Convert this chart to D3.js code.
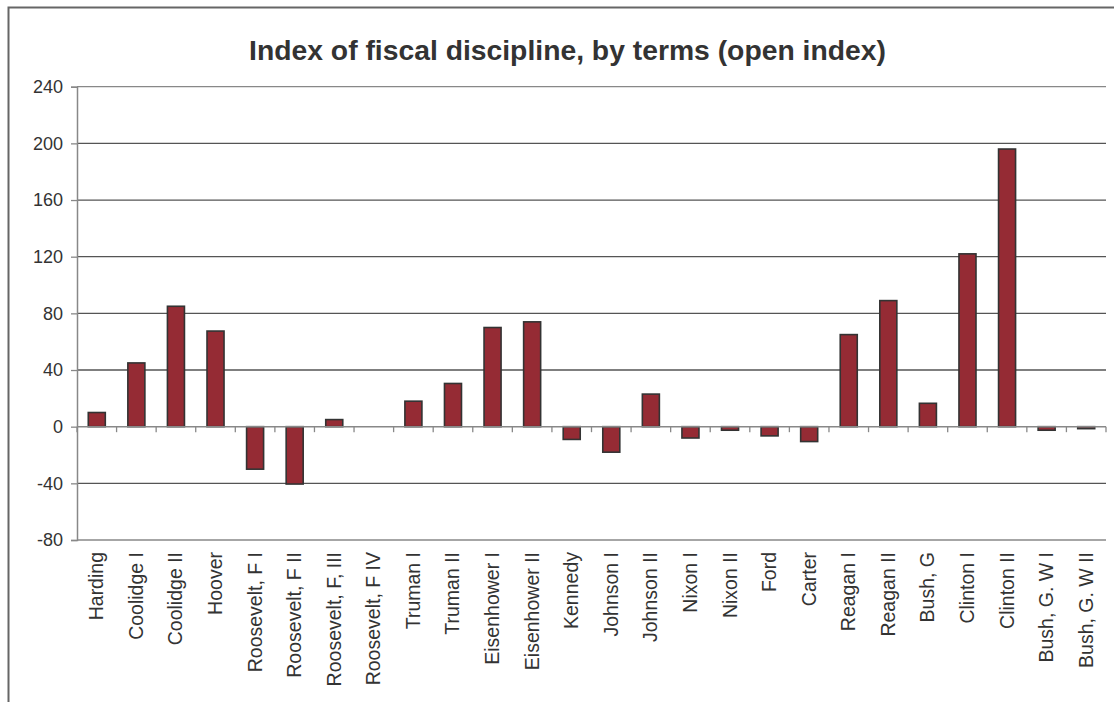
<!DOCTYPE html>
<html><head><meta charset="utf-8">
<script src="https://cdn.jsdelivr.net/npm/d3@7"></script>
<style>body{margin:0;background:#fff}svg{display:block}text{font-family:"Liberation Sans",Arial,sans-serif}</style>
</head><body>
<script>
const categories = ["Harding","Coolidge I","Coolidge II","Hoover","Roosevelt, F I","Roosevelt, F II","Roosevelt, F, III","Roosevelt, F IV","Truman I","Truman II","Eisenhower I","Eisenhower II","Kennedy","Johnson I","Johnson II","Nixon I","Nixon II","Ford","Carter","Reagan I","Reagan II","Bush, G","Clinton I","Clinton II","Bush, G. W I","Bush, G. W II"];
const values = [10,45,85,67.5,-30,-40.5,5,0,18,30.5,70,74,-9,-18,23,-8,-2.5,-6.5,-10.5,65,89,16.5,122,196,-2.5,-1.4];
const yTicks = [-80,-40,0,40,80,120,160,200,240];
const title = "Index of fiscal discipline, by terms (open index)";

const W=1114,H=702;
const svg=d3.select("body").append("svg").attr("width",W).attr("height",H);
svg.append("rect").attr("x",8.5).attr("y",7.5).attr("width",1110).attr("height",700).attr("fill","none").attr("stroke","#666").attr("stroke-width",2);

const x0=77,x1=1106,yTop=86.7,yBot=540;
const x=d3.scaleBand().domain(categories).range([x0,x1]).paddingInner(0.57).paddingOuter(0.285);
const xb=d3.scaleBand().domain(categories).range([x0,x1]);
const y=d3.scaleLinear().domain([-80,240]).range([yBot,yTop]);

svg.append("text").attr("x",567.5).attr("y",60).attr("text-anchor","middle").attr("font-size",28.3).attr("font-weight","bold").attr("fill","#333").text(title);

// gridlines
svg.append("g").selectAll("line").data(yTicks.filter(t=>t!==0)).join("line")
 .attr("x1",x0).attr("x2",x1).attr("y1",d=>y(d)).attr("y2",d=>y(d))
 .attr("stroke",d=>(d===240||d===-80)?"#888":"#555").attr("stroke-width",1.3);

// y axis
const ya=svg.append("g").attr("transform",`translate(${x0},0)`).call(d3.axisLeft(y).tickValues(yTicks).tickSize(6).tickPadding(8).tickFormat(d=>String(d)));
ya.select(".domain").attr("stroke","#888").attr("stroke-width",1.5);
ya.selectAll(".tick line").attr("stroke","#888").attr("stroke-width",1.3);
ya.selectAll("text").attr("font-size",18).attr("fill","#333").attr("font-family","Liberation Sans, Arial, sans-serif");

// bars
svg.append("g").selectAll("rect").data(values).join("rect")
 .attr("x",(d,i)=>x(categories[i])).attr("width",x.bandwidth())
 .attr("y",d=>y(Math.max(0,d))).attr("height",d=>Math.abs(y(d)-y(0)))
 .attr("fill","#952b34").attr("stroke","#333").attr("stroke-width",1.6);

// x axis at zero
const xa=svg.append("g").attr("transform",`translate(0,${y(0)})`);
xa.append("line").attr("x1",x0).attr("x2",x1).attr("stroke","#888").attr("stroke-width",1.5);
xa.selectAll(".tk").data(d3.range(categories.length+1)).join("line").attr("class","tk")
 .attr("x1",i=>x0+i*xb.step()).attr("x2",i=>x0+i*xb.step()).attr("y1",0).attr("y2",5.5)
 .attr("stroke","#888").attr("stroke-width",1.3);

// category labels
svg.append("g").selectAll("text").data(categories).join("text")
 .attr("transform",d=>`translate(${xb(d)+xb.bandwidth()/2+6.5},552) rotate(-90)`)
 .attr("text-anchor","end").attr("font-size",19.5).attr("fill","#333").text(d=>d);
</script>
</body></html>
